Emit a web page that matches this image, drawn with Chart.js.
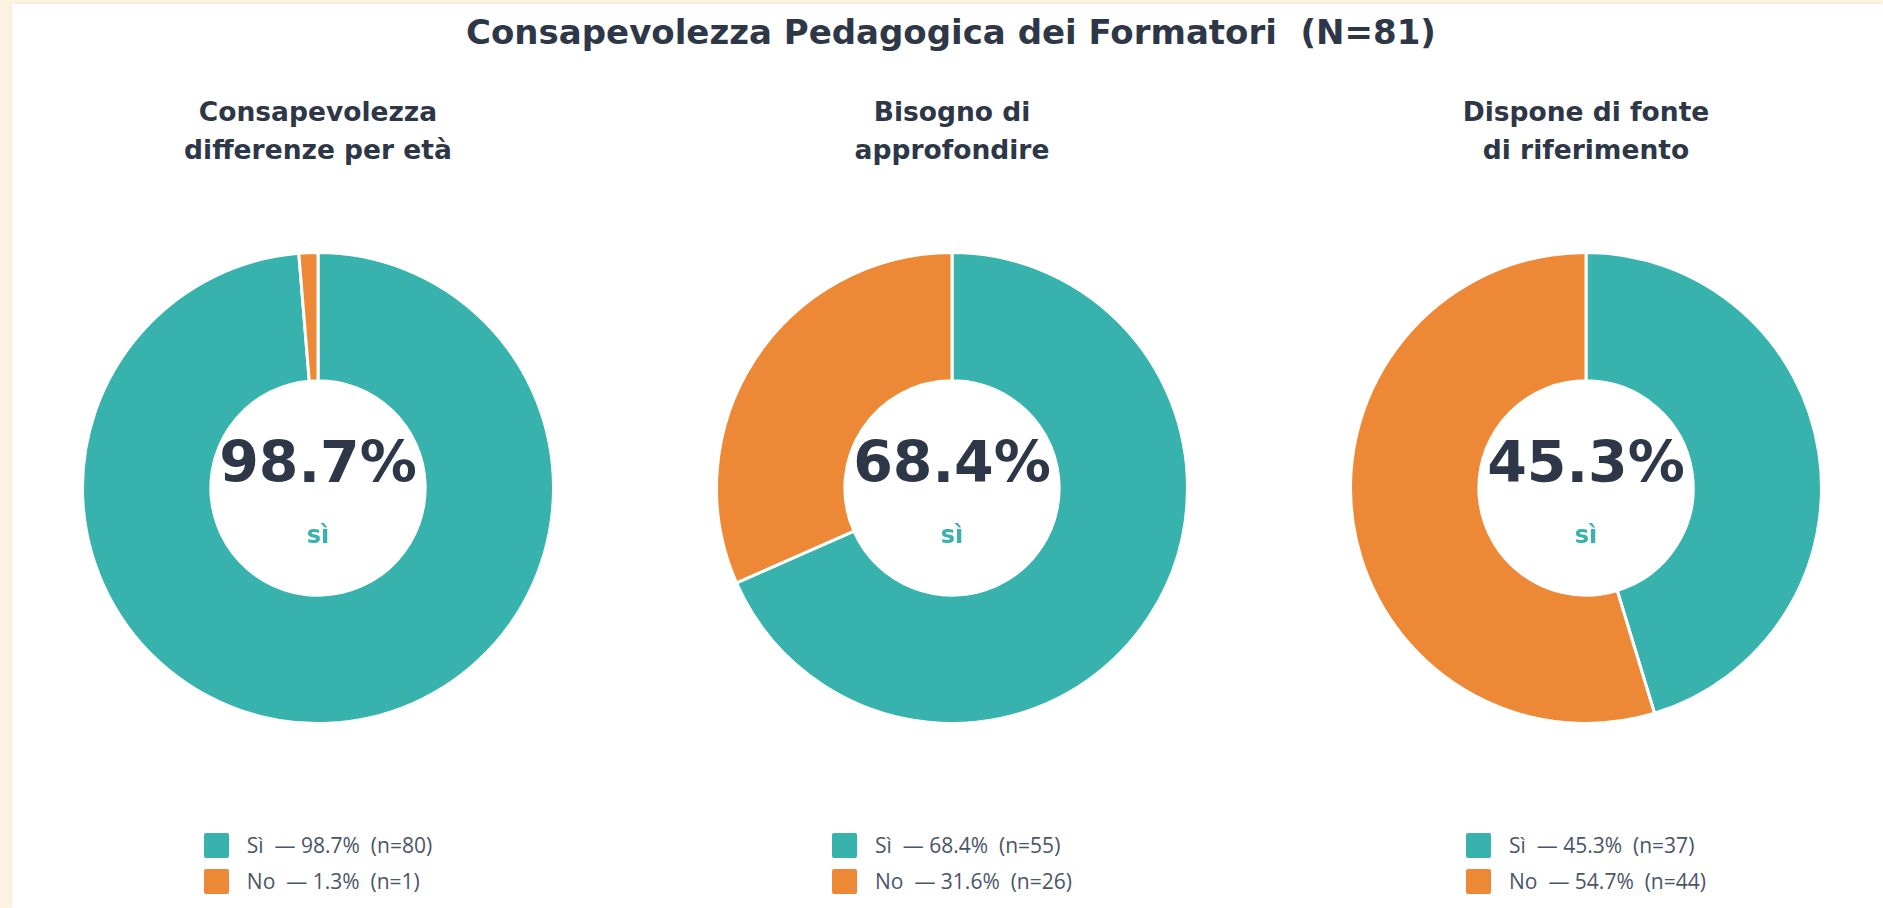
<!DOCTYPE html>
<html>
<head>
<meta charset="utf-8">
<title>Consapevolezza Pedagogica dei Formatori</title>
<script src="https://cdn.jsdelivr.net/npm/chart.js@4.4.0/dist/chart.umd.min.js"></script>
<style>
  body {
    margin: 0;
    width: 1883px;
    height: 908px;
    overflow: hidden;
    background: #fdf3e0;
    font-family: "DejaVu Sans", sans-serif;
    position: relative;
  }
  .card {
    position: absolute;
    left: 12px; top: 4px; right: 0; bottom: 0;
    background: #fff;
    box-shadow: 0 0 5px rgba(0,0,0,0.06);
  }
  .title {
    position: absolute;
    left: 451px; width: 1000px; top: 12px;
    text-align: center;
    font-weight: bold;
    font-size: 34px;
    line-height: 40px;
    color: #2d3748;
  }
  .subtitle {
    position: absolute;
    width: 500px; top: 93px;
    text-align: center;
    font-weight: bold;
    font-size: 26.5px;
    line-height: 38px;
    color: #2d3748;
  }
  .pie {
    position: absolute;
    top: 251px;
    width: 474px; height: 474px;
  }
  .legend {
    position: absolute;
    width: 400px; top: 827px;
    display: flex; justify-content: center;
    font-family: "Open Sans", sans-serif;
    font-size: 21px;
    color: #4a5568;
  }
  .legend .row { display: flex; align-items: center; height: 36px; white-space: pre; }
  .legend .box { width: 25px; height: 25px; border-radius: 2px; margin-right: 18px; }
</style>
</head>
<body>
<div class="card"></div>
<div class="title">Consapevolezza Pedagogica dei Formatori&nbsp; (N=81)</div>
<div id="charts"></div>

<script>
// dati
const titles = [
  ["Consapevolezza", "differenze per età"],
  ["Bisogno di", "approfondire"],
  ["Dispone di fonte", "di riferimento"]
];
const labels = ["Sì", "No"];
const pctSi = [98.7, 68.4, 45.3];
const pctNo = [1.3, 31.6, 54.7];
const nSi = [80, 55, 37];
const nNo = [1, 26, 44];
const colors = ["#38b2ac", "#ed8936"];

const centers = [318, 952, 1586];
const wrap = document.getElementById("charts");

// testo al centro della ciambella
const centerText = {
  id: "centerText",
  afterDraw(chart) {
    const arc = chart.getDatasetMeta(0).data[0];
    if (!arc) return;
    const ctx = chart.ctx;
    const val = chart.data.datasets[0].data[0];
    ctx.save();
    ctx.textAlign = "center";
    ctx.textBaseline = "middle";
    ctx.fillStyle = "#2d3748";
    ctx.font = "bold 57px 'DejaVu Sans'";
    ctx.fillText(val.toFixed(1) + "%", arc.x, arc.y - 21);
    ctx.fillStyle = colors[0];
    ctx.font = "bold 24px 'DejaVu Sans'";
    ctx.fillText("sì", arc.x, arc.y + 49);
    ctx.restore();
  }
};

titles.forEach((t, i) => {
  const cx = centers[i];

  const sub = document.createElement("div");
  sub.className = "subtitle";
  sub.style.left = (cx - 250) + "px";
  sub.innerHTML = t.join("<br>");
  wrap.append(sub);

  const box = document.createElement("div");
  box.className = "pie";
  box.style.left = (cx - 237) + "px";
  box.innerHTML = `<canvas id="pie${i}"></canvas>`;
  wrap.append(box);

  const vals = [pctSi[i], pctNo[i]];
  const ns = [nSi[i], nNo[i]];

  new Chart(document.getElementById("pie" + i), {
    type: "doughnut",
    data: {
      labels: labels,
      datasets: [{
        data: vals,
        backgroundColor: colors,
        borderColor: "#ffffff",
        borderWidth: 3
      }]
    },
    options: {
      responsive: true,
      maintainAspectRatio: false,
      animation: false,
      cutout: "45.5%",
      layout: { padding: 0 },
      plugins: {
        legend: { display: false },
        tooltip: { enabled: false }
      }
    },
    plugins: [centerText]
  });

  // legenda
  const leg = document.createElement("div");
  leg.className = "legend";
  leg.style.left = (cx - 200) + "px";
  let html = "<div>";
  labels.forEach((l, j) => {
    html += `<div class="row"><span class="box" style="background:${colors[j]}"></span>${l}  — ${vals[j].toFixed(1)}%  (n=${ns[j]})</div>`;
  });
  html += "</div>";
  leg.innerHTML = html;
  wrap.append(leg);
});
</script>
</body>
</html>
